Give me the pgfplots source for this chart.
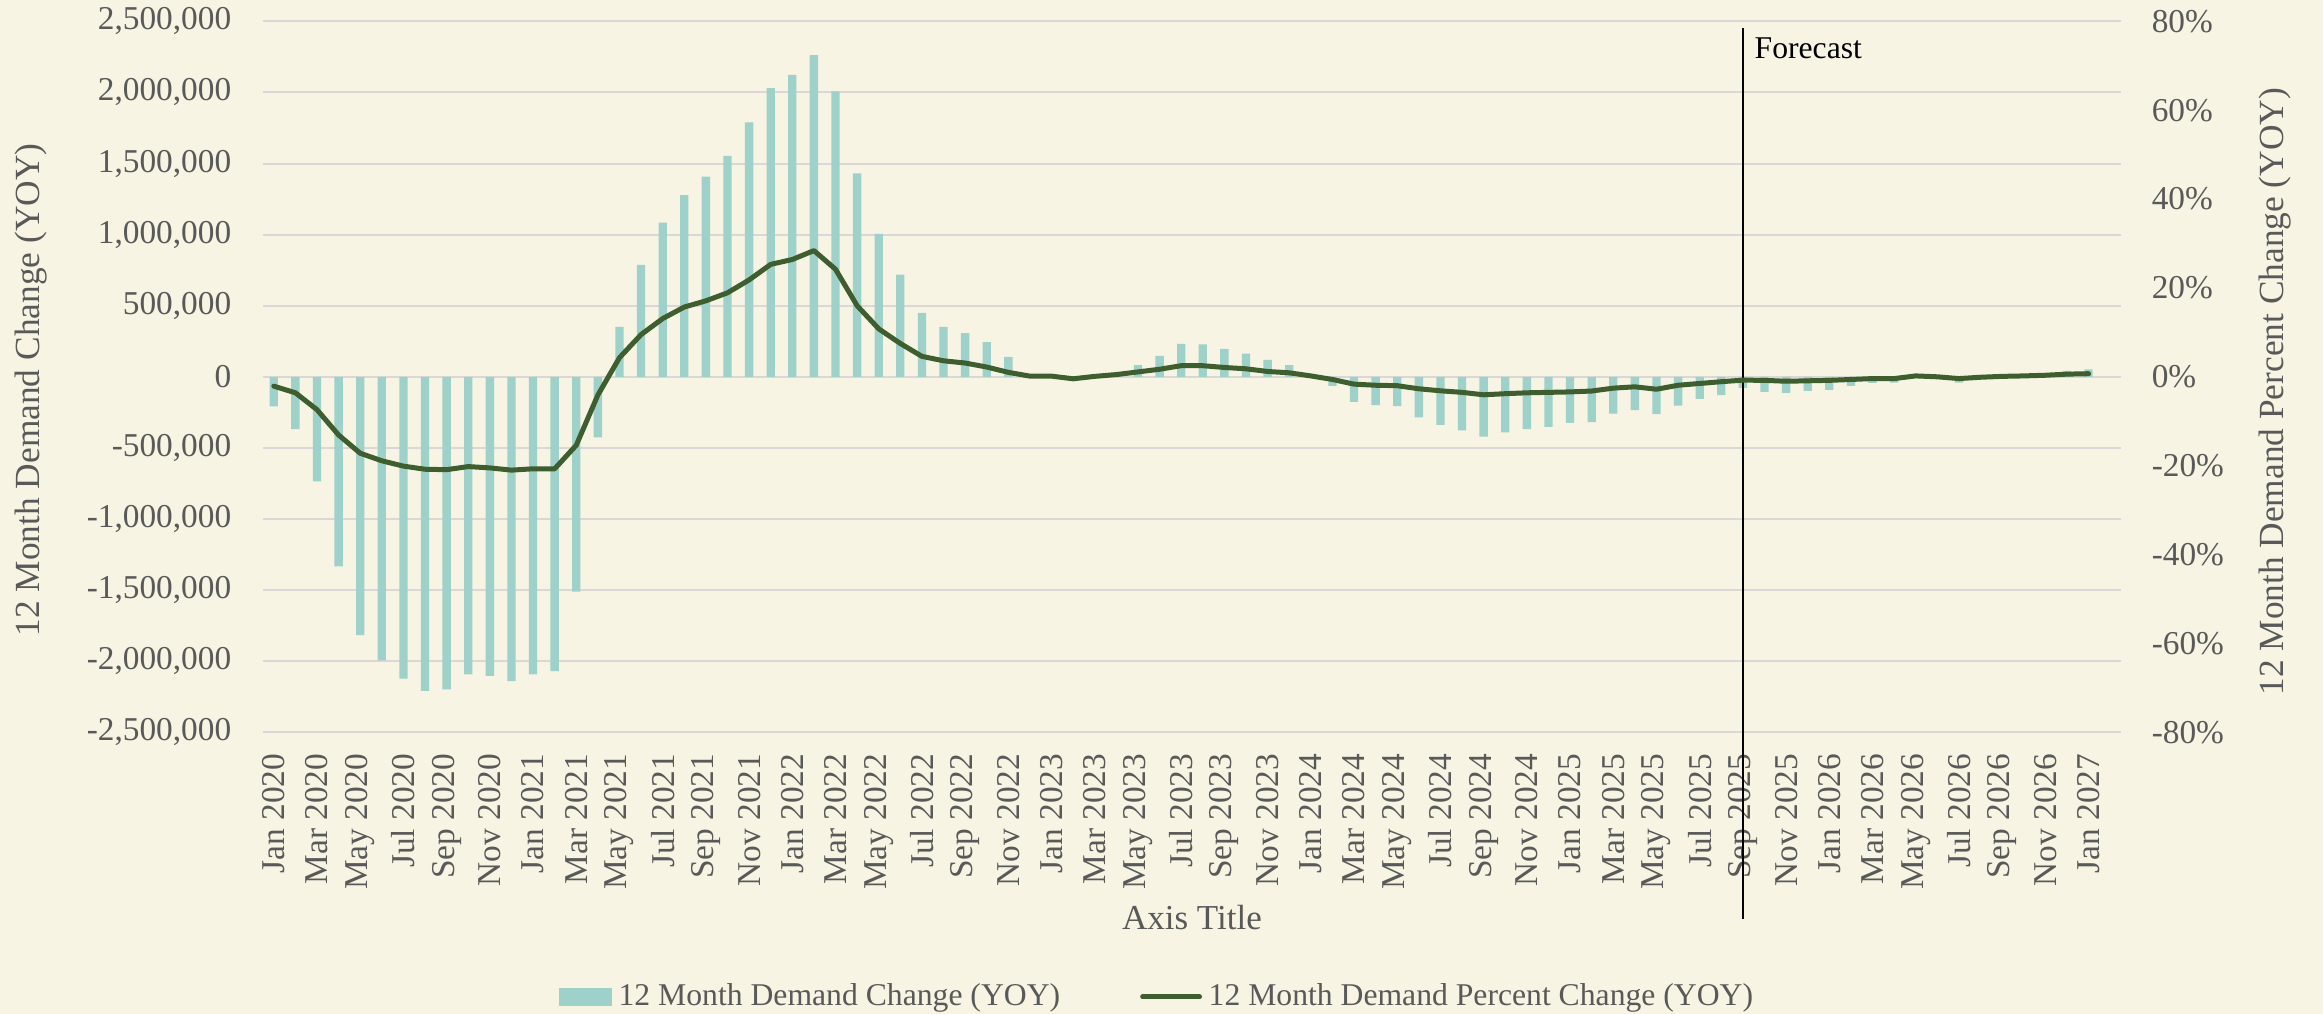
\documentclass[border=0pt]{standalone}
\usepackage{fontspec}
\setmainfont{Liberation Serif}
\usepackage{pgfplots}
\pgfplotsset{compat=1.18}
\usepackage{pgfplotstable}
\definecolor{bg}{HTML}{F7F4E4}
\definecolor{barc}{HTML}{9ED1C9}
\definecolor{linec}{HTML}{3E5E2F}
\definecolor{gridc}{HTML}{DAD8D6}
\definecolor{txt}{HTML}{595959}

\pgfplotstableread{
x bar pct
0 -208000 -2.1
1 -368000 -3.6
2 -736000 -7.4
3 -1333000 -13.1
4 -1817000 -17.2
5 -1994000 -18.9
6 -2123000 -20.1
7 -2209000 -20.8
8 -2198000 -20.9
9 -2093000 -20.2
10 -2103000 -20.5
11 -2140000 -21.0
12 -2093000 -20.7
13 -2069000 -20.7
14 -1510000 -15.4
15 -426000 -4.1
16 351000 4.3
17 787000 9.5
18 1084000 13.1
19 1278000 15.7
20 1408000 17.1
21 1554000 18.9
22 1789000 21.8
23 2031000 25.3
24 2123000 26.4
25 2263000 28.4
26 2007000 24.2
27 1431000 16.0
28 1005000 10.8
29 719000 7.5
30 450000 4.6
31 351000 3.6
32 307000 3.1
33 244000 2.2
34 141000 1.0
35 10000 0.15
36 5000 0.15
37 -10000 -0.45
38 5000 0.1
39 15000 0.5
40 82000 1.1
41 148000 1.7
42 232000 2.5
43 228000 2.5
44 197000 2.1
45 164000 1.8
46 120000 1.2
47 82000 0.9
48 10000 0.2
49 -63000 -0.6
50 -176000 -1.65
51 -199000 -1.9
52 -206000 -2.0
53 -286000 -2.7
54 -338000 -3.15
55 -377000 -3.5
56 -420000 -4.05
57 -391000 -3.8
58 -368000 -3.6
59 -352000 -3.5
60 -323000 -3.4
61 -319000 -3.2
62 -258000 -2.55
63 -234000 -2.25
64 -263000 -2.8
65 -202000 -1.9
66 -155000 -1.5
67 -129000 -1.1
68 -77000 -0.75
69 -105000 -0.8
70 -113000 -1.0
71 -98000 -0.9
72 -91000 -0.8
73 -63000 -0.6
74 -42000 -0.4
75 -40000 -0.4
76 10000 0.2
77 -5000 0.0
78 -40000 -0.4
79 -10000 -0.1
80 5000 0.1
81 15000 0.2
82 25000 0.35
83 42000 0.6
84 52000 0.7
}\data

\begin{document}
\begin{tikzpicture}
\fill[bg] (-78.9pt,-84.5pt) rectangle (618pt,219.7pt);
\begin{axis}[
  at={(0,0)}, anchor=south west,
  scale only axis, width=557.4pt, height=213.3pt,
  xmin=-0.5, xmax=85.5, ymin=-2500000, ymax=2500000,
  ytick={-2500000,-2000000,-1500000,-1000000,-500000,0,500000,1000000,1500000,2000000,2500000},
  scaled y ticks=false,
  yticklabel style={/pgf/number format/.cd, fixed, precision=0, 1000 sep={,}, assume math mode=true},
  xtick={0,2,...,84},
  xticklabels={Jan 2020,Mar 2020,May 2020,Jul 2020,Sep 2020,Nov 2020,
    Jan 2021,Mar 2021,May 2021,Jul 2021,Sep 2021,Nov 2021,
    Jan 2022,Mar 2022,May 2022,Jul 2022,Sep 2022,Nov 2022,
    Jan 2023,Mar 2023,May 2023,Jul 2023,Sep 2023,Nov 2023,
    Jan 2024,Mar 2024,May 2024,Jul 2024,Sep 2024,Nov 2024,
    Jan 2025,Mar 2025,May 2025,Jul 2025,Sep 2025,Nov 2025,
    Jan 2026,Mar 2026,May 2026,Jul 2026,Sep 2026,Nov 2026,Jan 2027},
  xticklabel style={rotate=90, anchor=east},
  xticklabel shift=2.9pt,
  yticklabel shift=6pt,
  tick label style={font=\fontsize{10}{12}\selectfont, text=txt},
  axis x line*=bottom, axis y line*=left,
  axis line style={draw=none}, major tick length=0pt,
  ymajorgrids, grid style={gridc, line width=0.6pt},
  ylabel={12 Month Demand Change (YOY)},
  ylabel style={at={([xshift=-69.6pt]rel axis cs:0,0.4815)}, anchor=center, font=\fontsize{10.6}{12}\selectfont, text=txt},
  xlabel={Axis Title},
  xlabel style={at={([yshift=-55.7pt]rel axis cs:0.5,0)}, anchor=center, font=\fontsize{10.5}{12}\selectfont, text=txt},
  clip=false,
]
\addplot[ybar, bar width=2.5pt, bar shift=0pt, fill=barc, draw=none] table[x=x,y=bar]{\data};
\draw[black, line width=0.6pt] (axis cs:68,2451500) -- (axis cs:68,-3812000);
\node[anchor=west, font=\fontsize{9.5}{11}\selectfont, text=black] at (axis cs:68,2308700) {Forecast};
\end{axis}
\begin{axis}[
  at={(0,0)}, anchor=south west,
  scale only axis, width=557.4pt, height=213.3pt,
  xmin=-0.5, xmax=85.5, ymin=-80, ymax=80,
  ytick={-80,-60,-40,-20,0,20,40,60,80},
  yticklabel={\pgfmathprintnumber[assume math mode=true]{\tick}\%},
  yticklabel shift=5.7pt,
  tick label style={font=\fontsize{10}{12}\selectfont, text=txt},
  axis y line*=right, axis x line=none,
  axis line style={draw=none}, major tick length=0pt,
  ylabel={12 Month Demand Percent Change (YOY)},
  ylabel style={at={([xshift=46.2pt]rel axis cs:1,0.479)}, anchor=center, font=\fontsize{10.6}{12}\selectfont, text=txt},
  legend columns=2,
  legend style={at={(rel axis cs:0,0)}, anchor=west, xshift=85.5pt, yshift=-79.4pt,
    draw=none, fill=none, font=\fontsize{9.5}{11}\selectfont, text=txt,
    /tikz/every even column/.append style={column sep=22pt}},
]
\addlegendimage{legend image code/.code={\fill[barc] (0pt,-2.55pt) rectangle (15.6pt,2.55pt);}}
\addlegendentry{12 Month Demand Change (YOY)}
\addplot[linec, line width=1.5pt, line join=round, line cap=round] table[x=x,y=pct]{\data};
\addlegendentry{12 Month Demand Percent Change (YOY)}
\end{axis}
\pgfresetboundingbox
\useasboundingbox (-78.9pt,-84.5pt) rectangle (618pt,219.7pt);
\end{tikzpicture}
\end{document}
